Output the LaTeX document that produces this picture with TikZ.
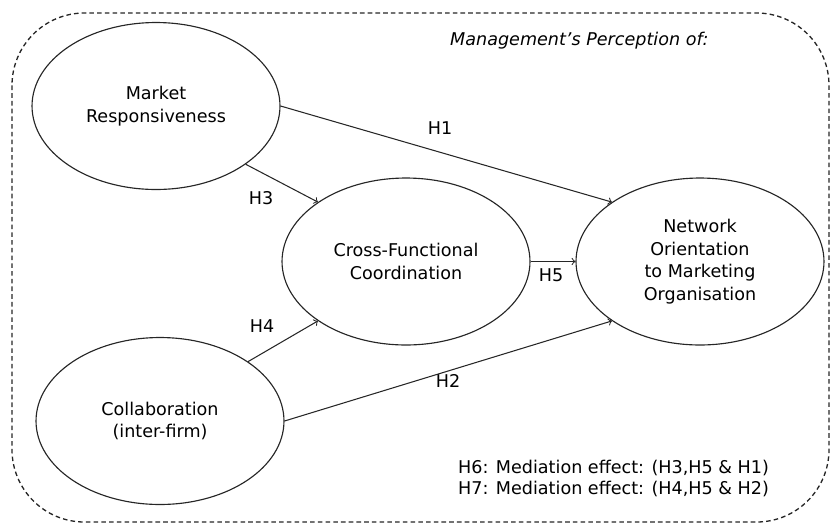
\documentclass[tikz,border=0pt]{standalone}
\usepackage{fontspec}
\setmainfont{DejaVu Sans}
\usetikzlibrary{shapes.geometric}
\newcommand{\construct}[4]{\node[construct] (#1) at (#2,#3) {#4};}

\begin{document}
\begin{tikzpicture}[x=0.02cm, y=-0.02cm,
		construct/.style={ellipse, draw=black!85, line width=0.65pt, minimum width=4.96cm, minimum height=3.34cm, inner sep=1pt, align=center, font=\fontsize{10}{12.8}\selectfont},
		hypline/.style={->, draw=black!85, line width=0.6pt},
		hyplabel/.style={font=\fontsize{10}{12}\selectfont}]
		\useasboundingbox (0,0) rectangle (832,525);
		\draw[black!85, line width=0.75pt, dash pattern=on 2.6pt off 1.8pt, rounded corners=1.45cm] (12,13) rectangle (829,522);
		
		\node[anchor=west, font=\fontsize{10}{12}\selectfont\itshape] (persp) at (444,41) {Management's Perception of:};
		
		\construct{mr}{156}{106}{Market\\Responsiveness}
		\construct{cfc}{406}{261.5}{Cross-Functional\\Coordination}
		\construct{no}{700}{261.5}{Network\\Orientation\\to Marketing\\Organisation}
		\construct{col}{160}{421}{Collaboration\\(inter-firm)}
		
		\draw[hypline] (mr.east) -- (no.146);
		\node[hyplabel] (h1) at (440,128) {H1};
		\draw[hypline] (mr.-33) -- (cfc.146);
		\node[hyplabel] (h3) at (261,198) {H3};
		\draw[hypline] (cfc.east) -- (no.west);
		\node[hyplabel] (h5) at (551,275) {H5};
		\draw[hypline] (col.34) -- (cfc.214);
		\node[hyplabel] (h4) at (262,326) {H4};
		\draw[hypline] (col.east) -- (no.214);
		\node[hyplabel] (h2) at (448,381) {H2};
		
		\node[anchor=west, align=left, font=\fontsize{10}{11.5}\selectfont] (med) at (452,478.5) {H6: Mediation effect: (H3,H5 \& H1)\\H7: Mediation effect: (H4,H5 \& H2)};
	\end{tikzpicture}
\end{document}
